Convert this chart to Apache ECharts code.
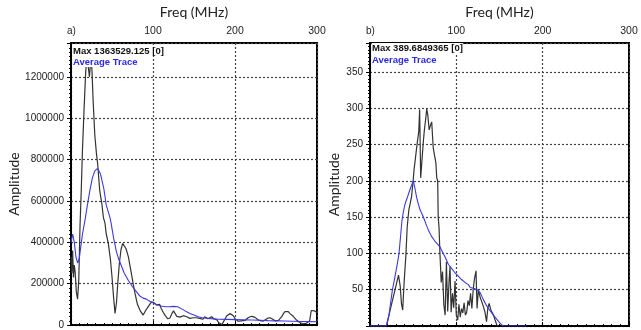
<!DOCTYPE html>
<html>
<head>
<meta charset="utf-8">
<script src="https://cdn.jsdelivr.net/npm/echarts@6/dist/echarts.min.js"></script>
<style>
  html, body { margin: 0; padding: 0; background: #fff; }
  #chart { width: 641px; height: 330px; }
</style>
</head>
<body>
<div id="chart"></div>
<script>
// panel a) - trace (black) and average (blue)
var aTraceFreq = [0, 1, 2, 3, 4, 5, 6.5, 8, 9.5, 11, 12.5, 14, 16, 18, 19.5, 21, 22.5, 24, 25.5, 27, 29, 31, 32.5, 35, 37.5, 39.5, 41.5, 43, 45.5, 48, 50, 52, 53.7, 55.5, 57, 59, 61, 63, 64.6, 67, 70, 72, 74, 76, 78, 81, 84, 88, 91, 94, 96, 98.4, 101, 104.5, 108, 110, 112.6, 115, 118, 120.7, 123, 125, 127, 129, 131, 133, 135, 137, 139, 141, 143, 145, 147, 149, 151, 153, 155, 157, 159, 161, 163, 165, 167, 169, 171.5, 174, 176, 178, 180, 182, 184, 186, 188, 190, 192, 194, 196, 198, 200, 202, 204, 206, 208, 210, 212, 214, 216, 218, 220, 222, 224, 226, 228, 230, 232, 234.5, 237, 240, 242.5, 245, 247, 249, 251, 253, 255, 257, 259, 261, 263, 265, 267, 269, 271, 273, 275, 277, 279, 281, 283, 285, 287, 289, 291, 293, 295, 297, 300];
var aTraceAmp = [330000, 250000, 360000, 230000, 290000, 260000, 160000, 125000, 220000, 480000, 650000, 850000, 1050000, 1230000, 1290000, 1250000, 1200000, 1280000, 1240000, 1084000, 920000, 830000, 780000, 650000, 590000, 520000, 491000, 440000, 395000, 320000, 233000, 130000, 56000, 110000, 200000, 300000, 365000, 395000, 401000, 370000, 329000, 285000, 241000, 195000, 154000, 100000, 72000, 48000, 70000, 88000, 100000, 112000, 108000, 96000, 100000, 80000, 60000, 45000, 30000, 34000, 55000, 68000, 60000, 42000, 34000, 38000, 35000, 45000, 48000, 40000, 35000, 32000, 29000, 35000, 28000, 35000, 30000, 32000, 34000, 28000, 40000, 35000, 30000, 38000, 40000, 30000, 35000, 25000, 12000, 4000, 2000, 10000, 30000, 45000, 50000, 55000, 53000, 45000, 30000, 22000, 18000, 16000, 20000, 25000, 22000, 28000, 35000, 40000, 42000, 45000, 38000, 30000, 25000, 22000, 20000, 19000, 25000, 33000, 35000, 30000, 25000, 20000, 16000, 22000, 30000, 40000, 55000, 65000, 72000, 65000, 55000, 50000, 42000, 35000, 24000, 18000, 12000, 10000, 6000, 2000, 8000, 15000, 20000, 70000, 75000, 68000, 60000];
var aAvgFreq = [0, 2, 4, 6, 8, 10, 12, 14, 17, 20, 23, 26, 29, 32.5, 36, 40, 43, 47.5, 49, 52, 55, 58, 61, 65, 70, 75, 80, 84, 88, 92, 96, 100, 105, 110, 115, 120, 125, 130, 135, 140, 145, 150, 155, 160, 170, 180, 190, 200, 210, 220, 230, 240, 250, 260, 270, 280, 290, 300];
var aAvgAmp = [400000, 440000, 400000, 330000, 300000, 320000, 380000, 440000, 506000, 580000, 650000, 710000, 745000, 757000, 730000, 660000, 580000, 520000, 490000, 420000, 361000, 320000, 290000, 250000, 215000, 185000, 160000, 140000, 130000, 125000, 115000, 107000, 98000, 92000, 88000, 88000, 90000, 88000, 78000, 66000, 56000, 48000, 40000, 35000, 31000, 28000, 27000, 26000, 25000, 24000, 23000, 21000, 20000, 19000, 18000, 17000, 16500, 16000];

// panel b)
var bTraceFreq = [0, 19, 23, 27, 30, 33, 35, 36.5, 37.9, 39.5, 41.7, 43, 45, 48, 50, 51, 53, 55, 56.5, 57.5, 58.7, 60, 61.8, 63, 64.5, 65.7, 67, 68.5, 69.5, 70.5, 71.5, 72.5, 73.3, 74.3, 75.3, 76.3, 77.3, 78.4, 79, 80, 81, 82.5, 84, 85.5, 87, 88.5, 90, 91.5, 92.7, 94, 95.5, 97, 98.5, 100, 101.6, 103, 104.5, 106, 107.5, 109, 110.5, 112, 113.5, 115, 116.5, 118, 119.5, 121, 122.8, 124, 125.5, 127.5, 129, 131, 133, 135, 136.5, 138, 140, 143, 145, 147, 149];
var bTraceAmp = [0, 0, 20, 40, 55, 70, 55, 30, 22, 60, 100, 135, 160, 177, 200, 215, 235, 255, 268, 298, 204, 225, 254, 270, 285, 299, 290, 270, 268, 278, 281, 260, 245, 238, 231, 225, 204, 200, 150, 135, 100, 60, 75, 30, 15, 88, 20, 60, 82, 19, 45, 25, 62, 15, 8, 30, 12, 24, 18, 32, 15, 19, 35, 28, 45, 24, 50, 65, 76, 24, 50, 40, 35, 28, 20, 6, 25, 31, 22, 15, 8, 1, 0];
var bAvgFreq = [0, 19, 22, 24, 26, 28, 30, 32, 33.6, 35.5, 37, 38.6, 40.6, 44.4, 47, 50.2, 52, 54, 56, 58, 60, 61.8, 65, 68, 71.5, 75, 78, 81, 84, 87, 90.7, 94, 98, 102, 106, 110, 114, 116, 120, 124, 127.5, 131, 135, 139, 143, 147, 150.6, 154, 181.5];
var bAvgAmp = [0, 0, 15, 33, 50, 62, 75, 88, 100, 125, 145, 157, 168, 181, 190, 200, 190, 177, 168, 160, 155, 150, 140, 131, 123, 117, 113, 109, 102, 95, 85, 80, 74, 69, 64, 60, 57, 53, 52, 50, 46, 37, 28, 21, 15, 9, 4, 0, 0];

var aMax = 1363529.125;
var bMax = 389.6849365;

function pairs(xs, ys) {
    return xs.map(function (x, i) { return [x, ys[i]] })
}

var chart = echarts.init(document.getElementById('chart'), null, { renderer: 'canvas' });

var gridLine = { show: true, lineStyle: { color: '#444', type: [2, 2], width: 1.2 } };
var labelFont = 'Liberation Sans, Arial, sans-serif';
var nameFont = 'Lato, Open Sans, sans-serif';

function xAxis(idx) {
    return {
        type: 'value', gridIndex: idx, position: 'top',
        min: 0, max: 300, interval: 100,
        name: 'Freq (MHz)', nameLocation: 'middle', nameGap: 24,
        nameTextStyle: { fontFamily: nameFont, fontSize: 14, color: '#222' },
        axisLine: { show: true, lineStyle: { color: '#000', width: 2 } },
        axisTick: { show: true, length: 4, lineStyle: { color: '#000' } },
        minorTick: { show: true, splitNumber: 10, length: 2, lineStyle: { color: '#000' } },
        axisLabel: {
            margin: 6, fontFamily: labelFont, fontSize: 10.5, color: '#222',
            formatter: function (v) { return v === 0 ? '' : String(v) }
        },
        splitLine: gridLine
    }
}

function yAxis(idx, max, interval, gap, showMin) {
    return {
        type: 'value', gridIndex: idx, min: 0, max: max, interval: interval,
        name: 'Amplitude', nameLocation: 'middle', nameGap: gap,
        nameTextStyle: { fontFamily: nameFont, fontSize: 14, color: '#222' },
        axisLine: { show: true, lineStyle: { color: '#000', width: 2 } },
        axisTick: { show: true, length: 4, lineStyle: { color: '#000' } },
        minorTick: { show: true, splitNumber: 10, length: 2, lineStyle: { color: '#000' } },
        axisLabel: {
            margin: 7, fontFamily: labelFont, fontSize: 10, color: '#222',
            showMinLabel: showMin, showMaxLabel: false,
            formatter: function (v) { return String(v) }
        },
        splitLine: gridLine
    }
}

function line(name, idx, data, color, width, z) {
    return {
        type: 'line', name: name, xAxisIndex: idx, yAxisIndex: idx,
        data: data, showSymbol: false, smooth: false, z: z,
        lineStyle: { color: color, width: width }
    }
}

var smallText = function (txt, left, top, color) {
    return {
        text: txt, left: left, top: top, padding: 0,
        backgroundColor: '#fff',
        textStyle: { fontFamily: labelFont, fontSize: 9.5, fontWeight: 'bold', color: color }
    }
};

chart.setOption({
    animation: false,
    backgroundColor: '#fff',
    title: [
        { text: 'a)', left: 67, top: 26, padding: 0, textStyle: { fontFamily: labelFont, fontSize: 10, fontWeight: 'normal', color: '#222' } },
        { text: 'b)', left: 366, top: 26, padding: 0, textStyle: { fontFamily: labelFont, fontSize: 10, fontWeight: 'normal', color: '#222' } },
        smallText('Max 1363529.125 [0]', 73, 46, '#111'),
        smallText('Average Trace', 73, 57, '#2a2ae6'),
        smallText('Max 389.6849365 [0]', 372, 43, '#111'),
        smallText('Average Trace', 372, 55, '#2a2ae6')
    ],
    grid: [
        { left: 71, right: 324, top: 42, bottom: 5, show: true, borderColor: '#000', borderWidth: 2, backgroundColor: 'transparent' },
        { left: 370, right: 12, top: 42, bottom: 4, show: true, borderColor: '#000', borderWidth: 2, backgroundColor: 'transparent' }
    ],
    xAxis: [xAxis(0), xAxis(1)],
    yAxis: [
        yAxis(0, aMax, 200000, 38, true),
        yAxis(1, bMax, 50, 29, false)
    ],
    series: [
        line('Max', 0, pairs(aTraceFreq, aTraceAmp), '#333', 1.2, 2),
        line('Average Trace', 0, pairs(aAvgFreq, aAvgAmp), '#3a3ae0', 1.1, 3),
        line('Max', 1, pairs(bTraceFreq, bTraceAmp), '#333', 1.2, 2),
        line('Average Trace', 1, pairs(bAvgFreq, bAvgAmp), '#3a3ae0', 1.1, 3)
    ]
});
</script>
</body>
</html>
